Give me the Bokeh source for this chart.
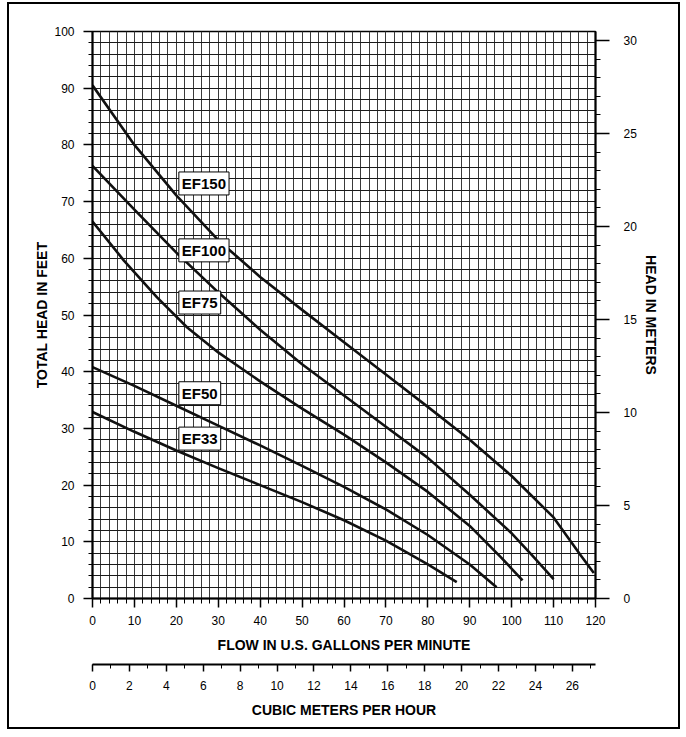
import math
from bokeh.plotting import figure
from bokeh.models import (Range1d, LinearAxis, SingleIntervalTicker, FixedTicker, Label)
from bokeh.embed import file_html
from bokeh.resources import INLINE

# ---- data ----
ef150_gpm = [0, 10, 20, 30, 40, 50, 60, 70, 80, 90, 100, 110, 116.5, 119.6]
ef150_ft = [90.5, 80.0, 71.1, 63.2, 56.7, 50.9, 45.2, 39.5, 33.8, 28.0, 21.6, 14.3, 7.6, 4.5]

ef100_gpm = [0, 10, 20, 30, 40, 50, 60, 70, 80, 90, 100, 105, 110]
ef100_ft = [76.3, 68.6, 61.0, 54.0, 47.4, 41.3, 35.8, 30.3, 24.8, 18.3, 11.5, 7.5, 3.4]

ef75_gpm = [0, 7.5, 15.4, 22.6, 30, 40, 50, 60, 70, 80, 90, 97.4, 102.6]
ef75_ft = [66.5, 59.6, 53.1, 47.8, 43.4, 38.3, 33.5, 28.9, 24.0, 18.8, 12.8, 7.3, 3.2]

ef50_gpm = [0, 10, 20, 30, 40, 50, 60, 70, 80, 90, 96.4]
ef50_ft = [40.8, 37.5, 34.0, 30.5, 27.0, 23.4, 19.7, 15.7, 11.2, 6.0, 2.0]

ef33_gpm = [0, 10, 20, 30, 40, 50, 60, 70, 80, 86.9]
ef33_ft = [32.9, 29.4, 26.1, 23.0, 20.0, 17.0, 13.8, 10.2, 6.0, 2.9]

label_names = ["EF150", "EF100", "EF75", "EF50", "EF33"]
label_x = [20.6, 20.6, 20.6, 20.6, 20.6]
label_y = [73.2, 61.4, 52.2, 36.2, 28.2]

GPM_MAX = 120
FT_MAX = 100
M_MAX = FT_MAX * 0.3048
CMH_MAX = GPM_MAX * 0.22712

FONT = "Liberation Sans"

p = figure(width=673, height=727, output_backend="svg", toolbar_location=None,
           x_range=Range1d(0, GPM_MAX), y_range=Range1d(0, FT_MAX),
           min_border_left=83, min_border_right=87, min_border_top=27,
           min_border_bottom=133, background_fill_color="white",
           border_fill_color="white")
p.styles = {"border": "2px solid black", "margin-left": "7px", "margin-top": "2px"}
p.extra_y_ranges = {"m": Range1d(0, M_MAX)}
p.extra_x_ranges = {"cmh": Range1d(0, CMH_MAX)}
p.outline_line_color = "black"
p.outline_line_width = 1.5

xt = SingleIntervalTicker(interval=10, num_minor_ticks=5)
yt = SingleIntervalTicker(interval=10, num_minor_ticks=5)
p.xaxis.ticker = xt
p.yaxis.ticker = yt
p.xgrid.ticker = xt
p.ygrid.ticker = yt

for g, col in ((p.xgrid, "#3a3a3a"), (p.ygrid, "#1a1a1a")):
    g.grid_line_color = col
    g.grid_line_width = 1
    g.minor_grid_line_color = col
    g.minor_grid_line_width = 1


def style_axis(ax, tick_out, minor_out, label_standoff, title_standoff):
    ax.axis_line_color = "black"
    ax.axis_line_width = 2
    ax.major_tick_line_color = "black"
    ax.major_tick_line_width = 1.5
    ax.minor_tick_line_color = "black"
    ax.minor_tick_line_width = 1
    ax.major_tick_in = 0
    ax.minor_tick_in = 0
    ax.major_tick_out = tick_out
    ax.minor_tick_out = minor_out
    ax.major_label_text_font = FONT
    ax.major_label_text_font_size = "12px"
    ax.major_label_text_color = "black"
    ax.major_label_standoff = label_standoff
    ax.axis_label_text_font = FONT
    ax.axis_label_text_font_size = "14px"
    ax.axis_label_text_font_style = "bold"
    ax.axis_label_text_color = "black"
    ax.axis_label_standoff = title_standoff


xa = p.xaxis[0]
style_axis(xa, 9, 5, 8, 9)
xa.axis_label = "FLOW IN U.S. GALLONS PER MINUTE"

ya = p.yaxis[0]
style_axis(ya, 9, 4, 9, 1)
ya.axis_label = "TOTAL HEAD IN FEET"

ra = LinearAxis(y_range_name="m", ticker=SingleIntervalTicker(interval=5, num_minor_ticks=5))
style_axis(ra, 14, 5, 14, 3)
ra.axis_label = "HEAD IN METERS"
if "axis_label_orientation" in ra.properties():
    ra.axis_label_orientation = "vertical"
p.add_layout(ra, "right")

# empty gap between the two flow scales (one invisible tick inside the range)
spacer = LinearAxis(x_range_name="cmh", ticker=FixedTicker(ticks=[0]))
spacer.axis_line_color = "white"
spacer.axis_line_width = 1
spacer.major_tick_out = 5
spacer.major_tick_in = 0
spacer.major_tick_line_color = "white"
spacer.minor_tick_line_color = None
spacer.major_label_standoff = 0
spacer.major_label_text_font_size = "1px"
spacer.major_label_text_color = "white"
p.add_layout(spacer, "below")

ca = LinearAxis(x_range_name="cmh", ticker=SingleIntervalTicker(interval=2, num_minor_ticks=2))
style_axis(ca, 7, 4, 9, 9)
ca.axis_label = "CUBIC METERS PER HOUR"
p.add_layout(ca, "below")

for xs, ys in ((ef150_gpm, ef150_ft), (ef100_gpm, ef100_ft), (ef75_gpm, ef75_ft),
               (ef50_gpm, ef50_ft), (ef33_gpm, ef33_ft)):
    p.line(xs, ys, line_color="#111111", line_width=2.6, line_join="round")

for name, lx, ly in zip(label_names, label_x, label_y):
    p.add_layout(Label(x=lx, y=ly, text=name, text_font=FONT, text_font_size="15px",
                       text_font_style="bold", text_color="black", text_align="left",
                       text_baseline="middle", background_fill_color="white",
                       border_line_color="black", border_line_width=1, padding=3))

open("out.html", "w").write(file_html(p, INLINE))
